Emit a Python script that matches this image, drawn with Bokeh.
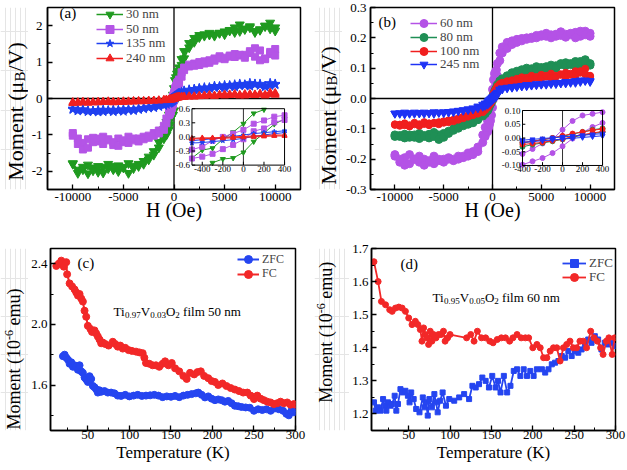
import math
from bokeh.plotting import figure
from bokeh.models import (Range1d, FixedTicker, PrintfTickFormatter, Span, Label,
                          Legend, LegendItem)
from bokeh.layouts import column, row
from bokeh.core.properties import value
from bokeh.embed import file_html
from bokeh.resources import INLINE

FONT = "Liberation Serif"

# ---------------- data: panel (a) and (b), field sweep -----------------
H_FIELD = [10000, 9500, 9000, 8500, 8000, 7500, 7000, 6500, 6000, 5500, 5000, 4500, 4000, 3500,
           3000, 2500, 2000, 1500, 1000, 750, 500, 400, 300, 200, 100, 0, -100, -200, -300, -400,
           -500, -750, -1000, -1500, -2000, -2500, -3000, -3500, -4000, -4500, -5000, -5500, -6000,
           -6500, -7000, -7500, -8000, -8500, -9000, -9500, -10000]

# (a) descending branch (_DN) and ascending branch (_UP), both listed at H_FIELD
A30_DN = [1.95, 2.08, 1.98, 1.90, 1.85, 1.98, 1.92, 2.03, 1.95, 1.88, 1.84, 1.80, 1.76, 1.80, 1.76, 1.74, 1.66,
          1.52, 1.30, 1.08,
          0.85, 0.75, 0.68, 0.58, 0.50, 0.28, 0.10, -0.05, -0.24, -0.28, -0.45,
          -0.65, -0.85, -1.20, -1.45,
          -1.60, -1.72, -1.80, -1.85, -1.78, -1.90, -1.84, -1.95, -1.80, -1.88, -2.02, -1.90, -1.82, -1.95, -2.05, -1.78]
A30_UP = [1.86, 1.92, 2.00, 1.88, 1.82, 1.95, 1.90, 1.85, 1.82, 1.86, 1.76, 1.80, 1.72, 1.75, 1.72, 1.68, 1.55,
          1.40, 1.10, 0.92,
          0.50, 0.38, 0.27, 0.08, -0.10, -0.33, -0.45, -0.47, -0.55, -0.72, -0.85,
          -1.00, -1.10, -1.35, -1.55,
          -1.68, -1.80, -1.86, -1.92, -2.05, -1.88, -2.00, -1.86, -1.92, -2.04, -1.86, -1.98, -2.06, -1.88, -1.96, -1.80]
A50_DN = [1.36, 1.22, 1.08, 1.32, 1.38, 1.25, 1.20, 1.18, 1.22, 1.15, 1.12, 1.16, 1.10, 1.05, 1.02, 1.00, 0.96,
          0.93, 0.85, 0.72,
          0.52, 0.46, 0.43, 0.35, 0.28, 0.15, 0.07, 0.00, -0.08, -0.21, -0.27,
          -0.55, -0.75, -0.88, -0.95,
          -1.02, -1.05, -1.10, -1.15, -1.05, -1.20, -1.10, -1.28, -1.15, -1.05, -1.18, -1.08, -1.12, -1.22, -1.10, -0.95]
A50_UP = [1.18, 1.28, 1.10, 1.05, 1.15, 1.30, 1.12, 1.20, 1.14, 1.18, 1.08, 1.10, 1.04, 0.98, 0.96, 0.92, 0.90,
          0.88, 0.78, 0.60,
          0.42, 0.36, 0.31, 0.18, 0.12, -0.05, -0.17, -0.26, -0.36, -0.42, -0.46,
          -0.68, -0.86, -0.96, -1.02,
          -1.08, -1.12, -1.18, -1.10, -1.22, -1.15, -1.30, -1.20, -1.12, -1.25, -1.10, -1.20, -1.35, -1.40, -1.25, -1.02]
A135_DN = [0.40, 0.36, 0.34, 0.40, 0.38, 0.42, 0.36, 0.40, 0.38, 0.34, 0.36, 0.32, 0.34, 0.30, 0.30, 0.28, 0.26,
           0.24, 0.21, 0.18,
           0.15, 0.13, 0.11, 0.09, 0.07, 0.04, 0.01, -0.02, -0.04, -0.06, -0.08,
           -0.12, -0.15, -0.19, -0.22,
           -0.24, -0.26, -0.28, -0.30, -0.32, -0.30, -0.34, -0.31, -0.33, -0.36, -0.32, -0.35, -0.33, -0.30, -0.34, -0.28]
A135_UP = [0.38, 0.42, 0.32, 0.36, 0.40, 0.34, 0.38, 0.35, 0.32, 0.36, 0.30, 0.33, 0.30, 0.28, 0.27, 0.26, 0.24,
           0.22, 0.19, 0.16,
           0.11, 0.09, 0.07, 0.04, 0.01, -0.03, -0.06, -0.08, -0.10, -0.12, -0.13,
           -0.16, -0.19, -0.22, -0.25,
           -0.26, -0.28, -0.30, -0.33, -0.30, -0.35, -0.32, -0.36, -0.34, -0.31, -0.37, -0.34, -0.36, -0.33, -0.31, -0.30]
A240_DN = [0.15, 0.12, 0.10, 0.13, 0.11, 0.12, 0.08, 0.10, 0.12, 0.09, 0.11, 0.10, 0.08, 0.09, 0.08, 0.07, 0.06,
           0.06, 0.05, 0.05,
           0.05, 0.04, 0.04, 0.03, 0.02, 0.01, 0.00, -0.01, -0.02, -0.02, -0.03,
           -0.03, -0.04, -0.05, -0.06,
           -0.06, -0.07, -0.08, -0.07, -0.09, -0.08, -0.10, -0.09, -0.08, -0.10, -0.09, -0.11, -0.10, -0.09, -0.12, -0.10]
A240_UP = [0.10, 0.16, 0.08, 0.11, 0.09, 0.10, 0.12, 0.08, 0.10, 0.11, 0.08, 0.09, 0.07, 0.08, 0.07, 0.06, 0.05,
           0.05, 0.04, 0.04,
           0.03, 0.02, 0.02, 0.01, 0.00, -0.01, -0.02, -0.03, -0.03, -0.04, -0.04,
           -0.04, -0.05, -0.06, -0.06,
           -0.07, -0.08, -0.07, -0.09, -0.08, -0.10, -0.09, -0.11, -0.10, -0.09, -0.11, -0.10, -0.12, -0.11, -0.10, -0.13]

# (b)
B60_DN = [0.215, 0.222, 0.205, 0.218, 0.210, 0.212, 0.220, 0.205, 0.210, 0.215, 0.205, 0.208, 0.202, 0.200, 0.198, 0.195, 0.190,
          0.185, 0.170, 0.150,
          0.115, 0.094, 0.088, 0.082, 0.062, 0.030, -0.005, -0.020, -0.040, -0.058, -0.075,
          -0.095, -0.120, -0.160, -0.175,
          -0.180, -0.190, -0.190, -0.200, -0.195, -0.200, -0.205, -0.190, -0.210, -0.200, -0.190, -0.200, -0.185, -0.195, -0.210, -0.190]
B60_UP = [0.205, 0.210, 0.222, 0.200, 0.215, 0.202, 0.208, 0.212, 0.200, 0.205, 0.210, 0.200, 0.198, 0.195, 0.190, 0.185, 0.178,
          0.165, 0.150, 0.125,
          0.075, 0.055, 0.040, 0.020, -0.002, -0.030, -0.055, -0.073, -0.085, -0.097, -0.110,
          -0.125, -0.145, -0.175, -0.185,
          -0.190, -0.195, -0.200, -0.205, -0.200, -0.210, -0.200, -0.215, -0.205, -0.220, -0.210, -0.200, -0.215, -0.220, -0.200, -0.185]
B80_DN = [0.115, 0.128, 0.110, 0.122, 0.115, 0.118, 0.112, 0.108, 0.110, 0.105, 0.100, 0.105, 0.098, 0.100, 0.095, 0.090, 0.085,
          0.075, 0.065, 0.058,
          0.045, 0.035, 0.030, 0.022, 0.014, 0.006, 0.000, -0.006, -0.012, -0.018, -0.025,
          -0.035, -0.045, -0.060, -0.070,
          -0.078, -0.082, -0.090, -0.100, -0.108, -0.115, -0.120, -0.112, -0.118, -0.125, -0.115, -0.120, -0.128, -0.118, -0.122, -0.125]
B80_UP = [0.110, 0.118, 0.122, 0.105, 0.112, 0.108, 0.115, 0.100, 0.104, 0.098, 0.102, 0.095, 0.092, 0.090, 0.088, 0.082, 0.075,
          0.068, 0.058, 0.050,
          0.030, 0.022, 0.016, 0.010, 0.003, -0.005, -0.012, -0.018, -0.024, -0.032, -0.040,
          -0.050, -0.058, -0.070, -0.080,
          -0.085, -0.090, -0.098, -0.105, -0.115, -0.128, -0.135, -0.125, -0.130, -0.122, -0.132, -0.128, -0.120, -0.130, -0.125, -0.120]
B100_DN = [0.075, 0.098, 0.085, 0.090, 0.078, 0.085, 0.080, 0.075, 0.082, 0.072, 0.078, 0.070, 0.075, 0.068, 0.070, 0.065, 0.060,
           0.057, 0.052, 0.048,
           0.040, 0.033, 0.028, 0.022, 0.016, 0.008, 0.000, -0.006, -0.012, -0.016, -0.022,
           -0.030, -0.038, -0.045, -0.050,
           -0.055, -0.060, -0.065, -0.070, -0.072, -0.075, -0.078, -0.080, -0.082, -0.078, -0.085, -0.080, -0.088, -0.082, -0.086, -0.085]
B100_UP = [0.072, 0.080, 0.090, 0.075, 0.082, 0.070, 0.078, 0.072, 0.068, 0.075, 0.066, 0.070, 0.064, 0.062, 0.060, 0.058, 0.055,
           0.052, 0.048, 0.043,
           0.030, 0.024, 0.018, 0.012, 0.005, -0.004, -0.010, -0.016, -0.020, -0.024, -0.030,
           -0.038, -0.045, -0.050, -0.055,
           -0.060, -0.065, -0.070, -0.075, -0.078, -0.080, -0.085, -0.082, -0.088, -0.084, -0.090, -0.085, -0.092, -0.088, -0.090, -0.087]
B245_DN = [0.058, 0.060, 0.055, 0.058, 0.052, 0.055, 0.050, 0.052, 0.048, 0.050, 0.046, 0.048, 0.044, 0.045, 0.042, 0.040, 0.038,
           0.036, 0.034, 0.030,
           0.020, 0.016, 0.013, 0.010, 0.007, 0.004, 0.001, -0.002, -0.005, -0.008, -0.012,
           -0.016, -0.020, -0.026, -0.032,
           -0.035, -0.038, -0.040, -0.042, -0.044, -0.045, -0.046, -0.045, -0.048, -0.046, -0.047, -0.050, -0.048, -0.046, -0.050, -0.049]
B245_UP = [0.055, 0.058, 0.060, 0.052, 0.055, 0.050, 0.052, 0.048, 0.050, 0.046, 0.047, 0.044, 0.043, 0.041, 0.040, 0.038, 0.036,
           0.034, 0.030, 0.027,
           0.012, 0.008, 0.005, 0.002, -0.001, -0.004, -0.007, -0.010, -0.013, -0.016, -0.020,
           -0.024, -0.027, -0.032, -0.036,
           -0.038, -0.040, -0.042, -0.045, -0.046, -0.048, -0.047, -0.050, -0.048, -0.050, -0.049, -0.046, -0.050, -0.052, -0.048, -0.050]

# ---------------- data: panel (c) and (d), temperature sweep -----------------
C_T_FC = [12, 15, 18, 21, 24, 25, 28, 31, 34, 36, 38, 40, 42, 44, 46, 48, 50, 53, 55, 58, 60, 62, 64, 66, 68,
          71, 75, 80, 83, 86, 89, 92, 95, 99, 103, 108, 112, 116, 118, 120, 124, 128, 132, 136, 140, 143, 147,
          151, 155, 160, 165, 169, 173, 178, 182, 186, 190, 195, 199, 203, 207, 212, 217, 222, 227, 232, 237,
          242, 246, 250, 254, 258, 262, 266, 270, 274, 278, 282, 286, 290, 294, 298, 300]
C_M_FC = [2.385, 2.40, 2.42, 2.38, 2.41, 2.33, 2.27, 2.25, 2.23, 2.21, 2.19, 2.20, 2.17, 2.15, 2.09, 2.05, 1.99,
          1.97, 1.95, 1.96, 1.94, 1.92, 1.90, 1.875, 1.88, 1.87, 1.86, 1.885, 1.87, 1.853, 1.86, 1.84, 1.845,
          1.83, 1.825, 1.82, 1.815, 1.81, 1.78, 1.745, 1.74, 1.73, 1.73, 1.72, 1.74, 1.756, 1.73, 1.745, 1.71,
          1.69, 1.66, 1.64, 1.68, 1.67, 1.685, 1.69, 1.66, 1.645, 1.626, 1.62, 1.60, 1.61, 1.593, 1.58, 1.57,
          1.56, 1.55, 1.55, 1.53, 1.507, 1.53, 1.51, 1.50, 1.49, 1.485, 1.474, 1.48, 1.49, 1.48, 1.485, 1.47,
          1.474, 1.47]
C_T_ZFC = [20, 22, 24, 26, 28, 30, 32, 34, 36, 38, 40, 42, 44, 46, 48, 50, 52, 54, 56, 58, 60, 62, 64, 66,
           70, 74, 78, 82, 86, 90, 95, 100, 105, 110, 115, 120, 125, 130, 135, 140, 145, 150, 155, 160, 165,
           170, 175, 180, 183, 187, 191, 195, 199, 203, 207, 211, 215, 219, 223, 227, 231, 235, 240, 245, 250,
           255, 260, 265, 270, 275, 280, 285, 289, 292, 295, 298, 300]
C_M_ZFC = [1.79, 1.80, 1.78, 1.767, 1.74, 1.75, 1.72, 1.73, 1.724, 1.70, 1.73, 1.69, 1.68, 1.65, 1.637, 1.62,
           1.658, 1.64, 1.594, 1.585, 1.572, 1.55, 1.565, 1.555, 1.56, 1.55, 1.55, 1.545, 1.53, 1.528, 1.535,
           1.525, 1.53, 1.535, 1.528, 1.53, 1.532, 1.535, 1.53, 1.52, 1.525, 1.522, 1.528, 1.52, 1.53, 1.535,
           1.54, 1.545, 1.55, 1.535, 1.518, 1.525, 1.51, 1.50, 1.505, 1.50, 1.49, 1.495, 1.48, 1.463, 1.46,
           1.455, 1.452, 1.45, 1.43, 1.44, 1.435, 1.44, 1.43, 1.445, 1.44, 1.43, 1.41, 1.40, 1.43, 1.42, 1.43]

D_T_FC = [8, 13, 17, 22, 27, 30, 34, 38, 42, 46, 50, 54, 58, 61, 64, 66, 68, 70, 72, 74, 76, 78, 80, 83, 86,
          89, 92, 94, 97, 100, 120, 125, 129, 133, 138, 143, 148, 152, 157, 162, 167, 172, 176, 181, 186, 191,
          195, 200, 205, 209, 213, 217, 221, 225, 229, 233, 237, 241, 245, 249, 253, 257, 261, 265, 270, 274,
          278, 282, 285, 289, 292, 296, 299]
D_M_FC = [1.66, 1.60, 1.54, 1.53, 1.515, 1.51, 1.52, 1.523, 1.52, 1.51, 1.49, 1.47, 1.48, 1.47, 1.455, 1.42,
          1.46, 1.44, 1.43, 1.41, 1.45, 1.42, 1.44, 1.43, 1.44, 1.44, 1.45, 1.42, 1.43, 1.44, 1.43, 1.44, 1.42,
          1.45, 1.43, 1.43, 1.42, 1.415, 1.425, 1.43, 1.43, 1.42, 1.43, 1.44, 1.43, 1.43, 1.43, 1.40, 1.41,
          1.40, 1.37, 1.37, 1.39, 1.40, 1.40, 1.36, 1.40, 1.41, 1.42, 1.40, 1.40, 1.42, 1.42, 1.40, 1.45, 1.43,
          1.42, 1.40, 1.38, 1.42, 1.43, 1.38, 1.43]
D_T_ZFC = [8, 10, 13, 16, 19, 21, 23, 25, 28, 30, 33, 35, 37, 40, 43, 46, 49, 51, 53, 56, 59, 63, 67, 69, 71,
           73, 75, 78, 81, 83, 85, 88, 91, 95, 99, 105, 111, 117, 123, 127, 131, 135, 139, 143, 147, 151, 155,
           158, 161, 165, 169, 173, 177, 181, 185, 189, 193, 197, 201, 205, 211, 215, 219, 223, 227, 231, 235,
           239, 243, 247, 251, 255, 259, 263, 267, 271, 275, 279, 283, 287, 291, 295, 299]
D_M_ZFC = [1.235, 1.21, 1.22, 1.21, 1.245, 1.225, 1.21, 1.235, 1.225, 1.23, 1.255, 1.21, 1.23, 1.275, 1.265,
           1.27, 1.255, 1.235, 1.265, 1.245, 1.215, 1.205, 1.25, 1.22, 1.235, 1.195, 1.245, 1.22, 1.26, 1.235,
           1.205, 1.24, 1.265, 1.225, 1.245, 1.24, 1.25, 1.26, 1.245, 1.285, 1.28, 1.29, 1.31, 1.30, 1.28,
           1.315, 1.28, 1.30, 1.265, 1.315, 1.265, 1.285, 1.33, 1.335, 1.315, 1.335, 1.315, 1.33, 1.315, 1.335,
           1.335, 1.325, 1.335, 1.35, 1.355, 1.36, 1.375, 1.37, 1.39, 1.375, 1.39, 1.385, 1.395, 1.405, 1.425,
           1.415, 1.435, 1.425, 1.395, 1.415, 1.41, 1.415, 1.405]

# ---------------- ticks / labels -----------------
A_XTICKS = [-10000, -5000, 0, 5000, 10000]
A_XMINOR = [-7500, -2500, 2500, 7500]
A_YTICKS = [-2, -1, 0, 1, 2]
A_YMINOR = [-2.5, -1.5, -0.5, 0.5, 1.5, 2.5]
B_YTICKS = [-0.3, -0.2, -0.1, 0.0, 0.1, 0.2, 0.3]
B_YMINOR = [-0.25, -0.15, -0.05, 0.05, 0.15, 0.25]
T_TICKS = [50, 100, 150, 200, 250, 300]
T_MINOR = [25, 75, 125, 175, 225, 275]
C_YTICKS = [1.6, 2.0, 2.4]
C_YMINOR = [1.4, 1.8, 2.2]
D_YTICKS = [1.2, 1.3, 1.4, 1.5, 1.6, 1.7]
D_YMINOR = [1.15, 1.25, 1.35, 1.45, 1.55, 1.65]
INS_XTICKS = [-400, -200, 0, 200, 400]
INS_XLABELS = ["-400", "-200", "0", "200", "400"]
INSA_YTICKS = [-0.6, -0.3, 0.0, 0.3, 0.6]
INSA_YLABELS = ["-0.6", "-0.3", "0.0", "0.3", "0.6"]
INSB_YTICKS = [-0.10, -0.05, 0.0, 0.05, 0.10]
INSB_YLABELS = ["-0.10", "-0.05", "0.00", "0.05", "0.10"]

# approximate glyph advance widths (em) of the serif face, used to chain text pieces
CW = {' ': 0.25, '(': 0.333, ')': 0.333, '.': 0.25, '/': 0.278, '-': 0.333, 'B': 0.667, 'M': 0.889,
      'O': 0.722, 'T': 0.611, 'V': 0.722, 'e': 0.444, 'f': 0.333, 'i': 0.278, 'l': 0.278, 'm': 0.778,
      'n': 0.5, 'o': 0.5, 't': 0.278, 'u': 0.5, 'μ': 0.576}


def tw(s, size):
    return sum(CW.get(ch, 0.5) for ch in s) * size


def make_fig(w, h, bl, br, bt, bb, xr, yr, xt, xmt, yt, ymt, xfmt, yfmt, tick_size, xstand, ystand):
    p = figure(width=w, height=h, min_border_left=bl, min_border_right=br, min_border_top=bt,
               min_border_bottom=bb, x_range=Range1d(*xr), y_range=Range1d(*yr),
               output_backend="svg", toolbar_location=None, tools="")
    p.xgrid.visible = False
    p.ygrid.visible = False
    p.outline_line_color = "black"
    p.outline_line_width = 1.5
    p.background_fill_color = "white"
    p.border_fill_color = "white"
    p.xaxis.ticker = FixedTicker(ticks=xt, minor_ticks=xmt)
    p.yaxis.ticker = FixedTicker(ticks=yt, minor_ticks=ymt)
    p.xaxis.formatter = PrintfTickFormatter(format=xfmt)
    p.yaxis.formatter = PrintfTickFormatter(format=yfmt)
    for ax in (p.xaxis[0], p.yaxis[0]):
        ax.axis_line_width = 1.5
        ax.major_tick_in = 5
        ax.major_tick_out = 0
        ax.minor_tick_in = 3
        ax.minor_tick_out = 0
        ax.major_tick_line_width = 1.3
        ax.minor_tick_line_width = 1
        ax.major_label_text_font = FONT
        ax.major_label_text_font_size = tick_size
        ax.major_label_text_color = "black"
        ax.axis_label_text_font = FONT
        ax.axis_label_text_font_style = "normal"
        ax.axis_label_text_color = "black"
    p.xaxis.major_label_standoff = xstand
    p.yaxis.major_label_standoff = ystand
    return p


def label_fig(w, h, parts, x, yc):
    """Thin figure beside a panel carrying its rotated y title (with sub/superscript).
    Pieces are chained with pixel offsets from one anchor."""
    f = figure(width=w, height=h, x_range=Range1d(0, w), y_range=Range1d(0, h), min_border=0,
               title=None, x_axis_location=None, y_axis_location=None, output_backend="svg",
               toolbar_location=None, tools="")
    f.outline_line_color = None
    f.background_fill_color = "white"
    f.border_fill_color = "white"
    total = sum(tw(t, s) for t, s, _ in parts)
    cum = -total / 2
    for i, (t, s, sh) in enumerate(parts):
        lead = len(t) - len(t.lstrip(" "))
        cum += tw(" " * lead, s)
        body = t.strip(" ")
        w_body = tw(body, s)
        if i == 0:
            f.text(x=[x], y=[yc], text=[body], angle=math.pi / 2, x_offset=sh, y_offset=-(cum + w_body),
                   text_font=value(FONT), text_font_size=f"{s}px", text_baseline="middle",
                   text_align="right", text_color="black")
        else:
            f.text(x=[x], y=[yc], text=[body], angle=math.pi / 2, x_offset=sh, y_offset=-cum,
                   text_font=value(FONT), text_font_size=f"{s}px", text_baseline="middle",
                   text_align="left", text_color="black")
        cum += w_body
    return f


def hlabel(p, parts, x, y):
    for t, s, dy in parts:
        lead = len(t) - len(t.lstrip(" "))
        x += tw(" " * lead, s)
        p.add_layout(Label(x=x, y=y + dy, x_units="screen", y_units="screen", text=t.strip(" "),
                           text_font=FONT, text_font_size=f"{s}px", text_baseline="alphabetic",
                           text_align="left", text_color="black"))
        x += tw(t.lstrip(" "), s)


def panel_tag(p, text, x, y):
    p.add_layout(Label(x=x, y=y, x_units="screen", y_units="screen", text=text, text_font=FONT,
                       text_font_size="15px", text_baseline="middle", text_align="left",
                       text_color="black"))


def add_legend_rows(p, items, x, frame_h, centers, size, gw):
    """One single-row legend per entry; rows have a fixed 20px height so centres are exact."""
    for (lab, rends), cy in zip(items, centers):
        leg = Legend(items=[LegendItem(label=lab, renderers=rends)], location=(x, frame_h - cy - 10),
                     background_fill_alpha=0, border_line_alpha=0, label_text_font=FONT,
                     label_text_font_size=size, glyph_width=gw, glyph_height=20, label_height=20,
                     spacing=0, padding=0, margin=0, label_standoff=3)
        p.add_layout(leg)


def lb_clip(xa, ya, xb, yb, box):
    x0, x1, y0, y1 = box
    dx, dy = xb - xa, yb - ya
    t0, t1 = 0.0, 1.0
    for pp, q in ((-dx, xa - x0), (dx, x1 - xa), (-dy, ya - y0), (dy, y1 - ya)):
        if pp == 0:
            if q < 0:
                return None
        else:
            t = q / pp
            if pp < 0:
                if t > t1:
                    return None
                t0 = max(t0, t)
            else:
                if t < t0:
                    return None
                t1 = min(t1, t)
    return (xa + t0 * dx, ya + t0 * dy, xa + t1 * dx, ya + t1 * dy)


def clip_poly(xs, ys, box):
    out, cur = [], []
    for i in range(len(xs) - 1):
        seg = lb_clip(xs[i], ys[i], xs[i + 1], ys[i + 1], box)
        if seg is None:
            if cur:
                out.append(cur)
                cur = []
            continue
        ax_, ay_, bx_, by_ = seg
        if cur and abs(cur[-1][0] - ax_) < 1e-9 and abs(cur[-1][1] - ay_) < 1e-12:
            cur.append((bx_, by_))
        else:
            if cur:
                out.append(cur)
            cur = [(ax_, ay_), (bx_, by_)]
    if cur:
        out.append(cur)
    return out


def add_inset(p, name, fx, fy, xr, yr, yticks, ylabels, series):
    a, b = xr
    c, d = yr
    W = (b - a) / (fx[1] - fx[0])
    xs0 = a - fx[0] * W
    g0, g1 = 1 - fy[1], 1 - fy[0]
    Hh = (d - c) / (g1 - g0)
    ys0 = c - g0 * Hh
    p.extra_x_ranges = {name: Range1d(xs0, xs0 + W)}
    p.extra_y_ranges = {name: Range1d(ys0, ys0 + Hh)}
    kw = dict(x_range_name=name, y_range_name=name)
    p.quad(left=[a], right=[b], bottom=[c], top=[d], fill_color="white", line_color=None, **kw)
    p.segment(x0=[0], x1=[0], y0=[c], y1=[d], line_color="#333333", line_width=1, **kw)
    box = (a, b, c, d)
    for xs, ys, color, marker, size in series:
        pieces = clip_poly(xs, ys, box)
        p.multi_line(xs=[[q[0] for q in pc] for pc in pieces], ys=[[q[1] for q in pc] for pc in pieces],
                     line_color=color, line_width=1, **kw)
        px = [x for x, y in zip(xs, ys) if a <= x <= b and c <= y <= d]
        py = [y for x, y in zip(xs, ys) if a <= x <= b and c <= y <= d]
        p.scatter(x=px, y=py, marker=marker, size=size, fill_color=color, line_color=color, **kw)
    p.quad(left=[a], right=[b], bottom=[c], top=[d], fill_alpha=0, line_color="black", line_width=1, **kw)
    n, m = len(INS_XTICKS), len(yticks)
    p.segment(x0=INS_XTICKS, x1=INS_XTICKS, y0=[c] * n, y1=[c + 0.06 * (d - c)] * n,
              line_color="black", line_width=1, **kw)
    p.segment(x0=[a] * m, x1=[a + 0.035 * (b - a)] * m, y0=yticks, y1=yticks,
              line_color="black", line_width=1, **kw)
    p.text(x=INS_XTICKS, y=[c] * n, text=INS_XLABELS, text_align="center", text_baseline="top",
           y_offset=1, text_font=value(FONT), text_font_size="9px", text_color="black", **kw)
    p.text(x=[a] * m, y=yticks, text=ylabels, text_align="right", text_baseline="middle",
           x_offset=-2, text_font=value(FONT), text_font_size="9px", text_color="black", **kw)


def zero_lines(p):
    p.add_layout(Span(location=0, dimension="height", line_color="black", line_width=1.3, level="underlay"))
    p.add_layout(Span(location=0, dimension="width", line_color="black", line_width=1.3, level="underlay"))


def loop(dn, up):
    return H_FIELD + H_FIELD[::-1], dn + up[::-1]


ROW1_H = 230
ROW2_H = 239

# ===================== panel (a) =====================
pa = make_fig(286, ROW1_H, 18, 14, 5, 38, (-12500, 12500), (-2.5, 2.5), A_XTICKS, A_XMINOR,
              A_YTICKS, A_YMINOR, "%d", "%d", "13px", 3, 5)
pa.xaxis.axis_label = "H (Oe)"
pa.xaxis.axis_label_text_font_size = "20px"
pa.xaxis.axis_label_standoff = -5
zero_lines(pa)
A_SERIES = [("30 nm", A30_DN, A30_UP, "#1f9a1f", "inverted_triangle", 9),
            ("50 nm", A50_DN, A50_UP, "#b455e6", "square", 7),
            ("135 nm", A135_DN, A135_UP, "#2040f0", "star", 10),
            ("240 nm", A240_DN, A240_UP, "#f02020", "triangle", 8)]
items, ins = [], []
for lab, dn, up, col, mk, sz in A_SERIES:
    xs, ys = loop(dn, up)
    rl = pa.line(xs, ys, line_color=col, line_width=1.5)
    rs = pa.scatter(xs, ys, marker=mk, size=sz, fill_color=col, line_color=col)
    items.append((lab, [rl, rs]))
    ins.append((xs, ys, col, mk, 5))
add_legend_rows(pa, items, 49, 187, [11.7, 26.5, 41.3, 56], "13px", 27)
add_inset(pa, "ins", (0.571, 0.937), (0.556, 0.866), (-500, 400), (-0.6, 0.6),
          INSA_YTICKS, INSA_YLABELS, ins)
panel_tag(pa, "(a)", 12, 177)
la = label_fig(28, ROW1_H, [("Moment (μ", 22, 0), ("B", 15, 4), ("/V)", 22, 0)], 15, 98)

# ===================== panel (b) =====================
pb = make_fig(284, ROW1_H, 25, 12, 7, 41, (-12500, 12500), (-0.3, 0.3), A_XTICKS, A_XMINOR,
              B_YTICKS, B_YMINOR, "%d", "%.1f", "13px", 3, 4)
pb.xaxis.axis_label = "H (Oe)"
pb.xaxis.axis_label_text_font_size = "20px"
pb.xaxis.axis_label_standoff = -5
zero_lines(pb)
B_SERIES = [("60 nm", B60_DN, B60_UP, "#b452e6", "circle", 8),
            ("80 nm", B80_DN, B80_UP, "#1f8f55", "circle", 8),
            ("100 nm", B100_DN, B100_UP, "#f01e1e", "circle", 7),
            ("245 nm", B245_DN, B245_UP, "#1e32f5", "inverted_triangle", 8)]
items, ins = [], []
for lab, dn, up, col, mk, sz in B_SERIES:
    xs, ys = loop(dn, up)
    rl = pb.line(xs, ys, line_color=col, line_width=1.5)
    rs = pb.scatter(xs, ys, marker=mk, size=sz, fill_color=col, line_color=col)
    items.append((lab, [rl, rs]))
    ins.append((xs, ys, col, mk, 5))
add_legend_rows(pb, items, 40, 182, [16.3, 29.8, 43.5, 57.3], "13px", 27)
add_inset(pb, "ins", (0.623, 0.951), (0.566, 0.868), (-400, 400), (-0.1, 0.1),
          INSB_YTICKS, INSB_YLABELS, ins)
panel_tag(pb, "(b)", 8, 168)
lb = label_fig(28, ROW1_H, [("Moment (μ", 22, 0), ("B", 15, 4), ("/V)", 22, 0)], 13.5, 93)

# ===================== panel (c) =====================
pc = make_fig(286, ROW2_H, 20, 19, 17, 37, (5, 300), (1.3, 2.5), T_TICKS, T_MINOR,
              C_YTICKS, C_YMINOR, "%d", "%.1f", "13px", 0, 3)
pc.xaxis.axis_label = "Temperature (K)"
pc.xaxis.axis_label_text_font_size = "17px"
pc.xaxis.axis_label_standoff = 1
r1 = pc.line(C_T_ZFC, C_M_ZFC, line_color="#2545f0", line_width=2)
r2 = pc.scatter(C_T_ZFC, C_M_ZFC, marker="circle", size=7, fill_color="#2545f0", line_color="#2545f0")
r3 = pc.line(C_T_FC, C_M_FC, line_color="#f22828", line_width=2)
r4 = pc.scatter(C_T_FC, C_M_FC, marker="circle", size=7, fill_color="#f22828", line_color="#f22828")
add_legend_rows(pc, [("ZFC", [r1, r2]), ("FC", [r3, r4])], 187, 185, [14, 28.5], "12px", 22)
panel_tag(pc, "(c)", 27, 168)
hlabel(pc, [("Ti", 13, 0), ("0.97", 9, -3), ("V", 13, 0), ("0.03", 9, -3), ("O", 13, 0),
            ("2", 9, -3), (" film 50 nm", 13, 0)], 63, 119)
lc = label_fig(28, ROW2_H, [("Moment (10", 18, 0), ("-6", 12, -5), (" emu)", 18, 0)], 13, 94)

# ===================== panel (d) =====================
pd = make_fig(277, ROW2_H, 20, 11, 18, 39, (5, 300), (1.15, 1.7), T_TICKS, T_MINOR,
              D_YTICKS, D_YMINOR, "%d", "%.1f", "13px", 0, 3)
pd.xaxis.axis_label = "Temperature (K)"
pd.xaxis.axis_label_text_font_size = "17px"
pd.xaxis.axis_label_standoff = 1
s1 = pd.line(D_T_ZFC, D_M_ZFC, line_color="#2545f0", line_width=1.8)
s2 = pd.scatter(D_T_ZFC, D_M_ZFC, marker="square", size=5, fill_color="#2545f0", line_color="#2545f0")
s3 = pd.line(D_T_FC, D_M_FC, line_color="#f22828", line_width=1.8)
s4 = pd.scatter(D_T_FC, D_M_FC, marker="circle", size=6, fill_color="#f22828", line_color="#f22828")
add_legend_rows(pd, [("ZFC", [s1, s2]), ("FC", [s3, s4])], 191, 182, [14.7, 28.7], "13px", 24)
panel_tag(pd, "(d)", 29, 167)
hlabel(pd, [("Ti", 13, 0), ("0.95", 9, -3), ("V", 13, 0), ("0.05", 9, -3), ("O", 13, 0),
            ("2", 9, -3), (" film 60 nm", 13, 0)], 61, 133)
ld = label_fig(35, ROW2_H, [("Moment (10", 18, 0), ("-6", 12, -5), (" emu)", 18, 0)], 11.5, 129)

layout = column(row(la, pa, lb, pb), row(lc, pc, ld, pd))
open("out.html", "w").write(file_html(layout, INLINE))
